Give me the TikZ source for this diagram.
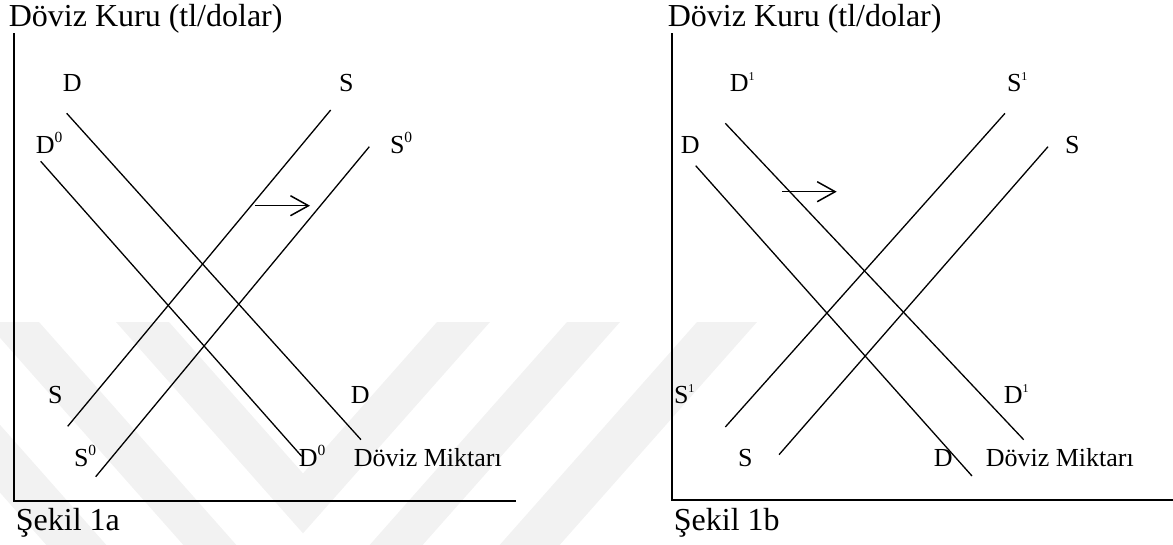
\documentclass[tikz,border=0pt]{standalone}
\usepackage{fontspec}
\setmainfont{Liberation Serif}
\usetikzlibrary{arrows.meta}

% raised exponents on the curve labels
\newcommand{\zeroexp}{\raisebox{10.6pt}{\fontsize{15.5}{15.5}\selectfont 0}}
\newcommand{\oneexp}{\raisebox{11pt}{\fontsize{12}{12}\selectfont 1}}

\tikzset{
  lbl/.style={anchor=base west, inner sep=0pt, font=\fontsize{26}{30}\selectfont},
  head/.style={anchor=base west, inner sep=0pt, font=\fontsize{32}{36}\selectfont},
  curve/.style={line width=1.3pt},
  axisline/.style={line width=1.8pt},
  shiftarrow/.style={line width=1.5pt, -{Straight Barb[length=18pt,width=20pt]}},
  wm/.style={fill=black!5, draw=none}
}

\begin{document}
\begin{tikzpicture}[x=1pt,y=-1pt]
\useasboundingbox (0,0) rectangle (1173,544);

% faint background chevrons
\begin{scope}
  \clip (0,0) rectangle (1173,544);
  \fill[wm] (116,322) -- (169,322) -- (303,473.4) -- (437,322) -- (490,322) -- (303,533.3) -- cycle;
  \fill[wm] (-14,322) -- (39,322) -- (303,620.3) -- (567,322) -- (620,322) -- (303,680.2) -- cycle;
  \fill[wm] (-151,322) -- (-91,322) -- (303,767.2) -- (697,322) -- (757,322) -- (303,835) -- cycle;
\end{scope}

% ---------------- panel (a) ----------------
\coordinate (aTop) at (13.7,33);
\coordinate (aO)   at (13.7,501);
\coordinate (aEnd) at (516,501);
\draw[axisline] (aTop) -- (aO) -- (aEnd);

\coordinate (aD1) at (66.7,113.3);  \coordinate (aD2) at (361,439.7);
\coordinate (aDz1) at (40.7,161.3); \coordinate (aDz2) at (301.7,456.3);
\coordinate (aS1) at (67.7,426.3);  \coordinate (aS2) at (330.7,110);
\coordinate (aSz1) at (95.7,476.7); \coordinate (aSz2) at (369.3,146.7);
\draw[curve] (aD1) -- (aD2);
\draw[curve] (aDz1) -- (aDz2);
\draw[curve] (aS1) -- (aS2);
\draw[curve] (aSz1) -- (aSz2);

\coordinate (aA1) at (255,205.7); \coordinate (aA2) at (310,205.7);
\draw[shiftarrow] (aA1) -- (aA2);

\node[head] (aTitle) at (8.6,26) {Döviz Kuru (tl/dolar)};
\node[head] (aCap)   at (15.7,530) {Şekil 1a};
\node[lbl] (aLD)   at (62.6,91)  {D};
\node[lbl] (aLS)   at (338.8,91) {S};
\node[lbl] (aLDz)  at (35.6,153) {D\zeroexp};
\node[lbl] (aLSz)  at (389.8,153) {S\zeroexp};
\node[lbl] (aLSb)  at (47.8,403) {S};
\node[lbl] (aLDb)  at (350.6,403) {D};
\node[lbl] (aLSzb) at (73.8,466) {S\zeroexp};
\node[lbl] (aLDzb) at (298.6,466) {D\zeroexp};
\node[lbl] (aQty)  at (353.6,466) {Döviz Miktarı};

% ---------------- panel (b) ----------------
\coordinate (bTop) at (672.3,33);
\coordinate (bO)   at (672.3,500);
\coordinate (bEnd) at (1173,500);
\draw[axisline] (bTop) -- (bO) -- (bEnd);

\coordinate (bDo1) at (725.3,123.3); \coordinate (bDo2) at (1023.7,439.7);
\coordinate (bD1)  at (695.7,165.7); \coordinate (bD2)  at (972,476);
\coordinate (bSo1) at (725.3,427);   \coordinate (bSo2) at (1005,113.3);
\coordinate (bS1)  at (779,454.7);   \coordinate (bS2)  at (1048,146.7);
\draw[curve] (bDo1) -- (bDo2);
\draw[curve] (bD1) -- (bD2);
\draw[curve] (bSo1) -- (bSo2);
\draw[curve] (bS1) -- (bS2);

\coordinate (bA1) at (782,191.7); \coordinate (bA2) at (836.7,191.7);
\draw[shiftarrow] (bA1) -- (bA2);

\node[head] (bTitle) at (667.6,26) {Döviz Kuru (tl/dolar)};
\node[head] (bCap)   at (673.7,530) {Şekil 1b};
\node[lbl] (bLDo)  at (729.6,91)  {D\oneexp};
\node[lbl] (bLSo)  at (1006.8,91) {S\oneexp};
\node[lbl] (bLD)   at (680.6,153) {D};
\node[lbl] (bLS)   at (1064.8,153) {S};
\node[lbl] (bLSob) at (673.8,403) {S\oneexp};
\node[lbl] (bLDob) at (1003.6,403) {D\oneexp};
\node[lbl] (bLSb)  at (737.8,466) {S};
\node[lbl] (bLDb)  at (933.6,466) {D};
\node[lbl] (bQty)  at (985.6,466) {Döviz Miktarı};
\end{tikzpicture}
\end{document}
